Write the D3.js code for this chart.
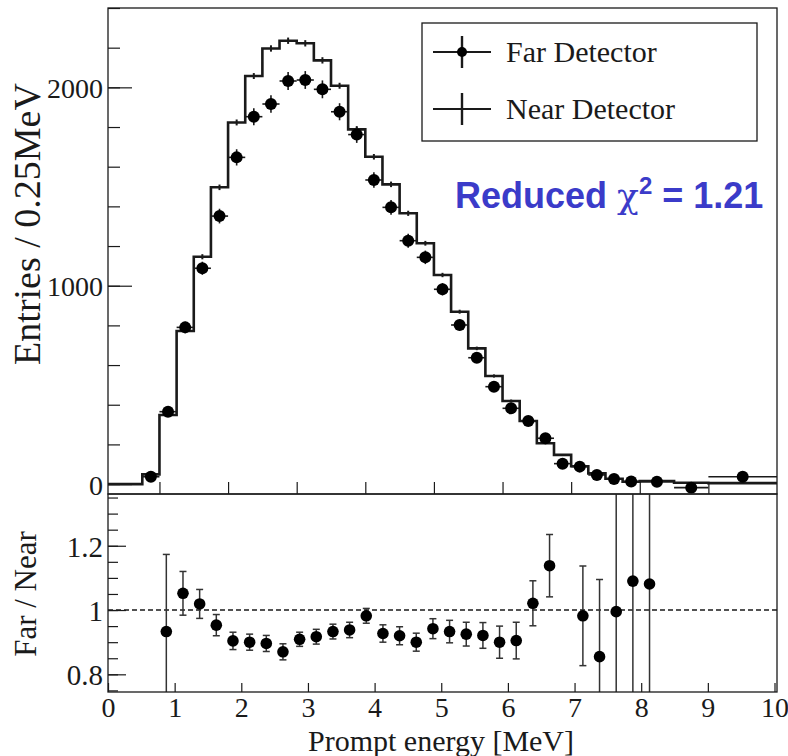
<!DOCTYPE html>
<html>
<head>
<meta charset="utf-8">
<script src="https://cdn.jsdelivr.net/npm/d3@7"></script>
<style>
  body { margin: 0; background: #fff; }
  svg { display: block; font-family: "Liberation Serif", "DejaVu Serif", serif; }
</style>
</head>
<body>
<svg class="chart"></svg>
<script>
// bin edges of the energy histogram (MeV); last three bins are wider
const binEdges = [0.25, 0.5, 0.75, 1.0, 1.25, 1.5, 1.75, 2.0, 2.25, 2.5, 2.75, 3.0, 3.25, 3.5,
  3.75, 4.0, 4.25, 4.5, 4.75, 5.0, 5.25, 5.5, 5.75, 6.0, 6.25, 6.5, 6.75, 7.0, 7.25, 7.5, 7.75,
  8.0, 8.5, 9.0, 10.0];

// Near detector (scaled), entries / 0.25 MeV
const nearCounts = [0, 0, 49, 348, 772, 1146, 1496, 1823, 2057, 2196, 2235, 2222, 2136, 2008,
  1788, 1650, 1511, 1365, 1214, 1054, 869, 684, 545, 419, 318, 206, 147, 90, 54, 27, 12,
  15, 7, 5];
const nearErr = [0, 0, 6, 9, 12, 13, 14, 15, 15, 16, 16, 16, 16, 15,
  15, 14, 14, 13, 12, 11, 10, 9, 8, 7, 6, 5, 4, 4, 3, 3, 2,
  2, 2, 2];

// Far detector, entries / 0.25 MeV
const farCounts = [null, null, 37, 365, 790, 1088, 1351, 1647, 1852, 1916, 2032, 2037, 1990, 1877,
  1762, 1533, 1395, 1227, 1143, 982, 802, 637, 491, 382, 318, 231, 103, 88, 46, 26, 13,
  12, -18, 37];
const farErr = [0, 0, 6, 19, 28, 33, 37, 41, 43, 44, 45, 45, 45, 43,
  42, 39, 37, 35, 34, 31, 28, 25, 22, 20, 18, 15, 10, 9, 7, 5, 4,
  5, 6, 5];

// Far / Near ratio
const ratioCenters = [0.875, 1.125, 1.375, 1.625, 1.875, 2.125, 2.375, 2.625, 2.875, 3.125,
  3.375, 3.625, 3.875, 4.125, 4.375, 4.625, 4.875, 5.125, 5.375, 5.625, 5.875, 6.125, 6.375,
  6.625, 7.125, 7.375, 7.625, 7.875, 8.125];
const ratioValues = [0.933, 1.052, 1.019, 0.953, 0.904, 0.900, 0.896, 0.870, 0.909, 0.917,
  0.933, 0.938, 0.982, 0.927, 0.920, 0.900, 0.942, 0.933, 0.925, 0.921, 0.900, 0.905, 1.021,
  1.138, 0.982, 0.855, 0.995, 1.090, 1.081];
const ratioErr = [0.240, 0.068, 0.045, 0.033, 0.027, 0.025, 0.025, 0.025, 0.022, 0.023,
  0.023, 0.024, 0.023, 0.027, 0.028, 0.028, 0.031, 0.035, 0.037, 0.040, 0.050, 0.057, 0.070,
  0.097, 0.155, 0.240, 0.900, 0.900, 0.900];

const topMajor = [0, 1000, 2000];
const topMinor = [0, 200, 400, 600, 800, 1000, 1200, 1400, 1600, 1800, 2000, 2200, 2400];
const topXTicks = [1, 2, 3, 4, 5, 6, 7, 8, 9];
const lowXTicks = [0, 1, 2, 3, 4, 5, 6, 7, 8, 9, 10];
const lowMajor = [0.8, 1, 1.2];
const lowMinor = [0.75, 0.8, 0.85, 0.9, 0.95, 1, 1.05, 1.1, 1.15, 1.2, 1.25, 1.3, 1.35];

const width = 788, height = 756;
const left = 108, right = 777;
const topY0 = 8, splitY = 494, lowY1 = 692;
const ink = '#1a1a1a';

const svg = d3.select('.chart')
    .attr('width', width)
    .attr('height', height)
    .attr('viewBox', [0, 0, width, height]);

// scales
const xTop = d3.scaleLinear([0.25, 10], [left, right]);
const yTop = d3.scaleLinear([-50, 2400], [splitY, topY0]);
const xLow = d3.scaleLinear([0, 10], [left, 774.5]);
const yLow = d3.scaleLinear([0.745, 1.361], [lowY1, splitY]);

const defs = svg.append('defs');
defs.append('clipPath').attr('id', 'clipTop').append('rect')
    .attr('x', left).attr('y', topY0).attr('width', right - left).attr('height', splitY - topY0);
defs.append('clipPath').attr('id', 'clipLow').append('rect')
    .attr('x', left).attr('y', splitY).attr('width', right - left).attr('height', lowY1 - splitY);

function styleAxis(g, size) {
    g.select('.domain').remove();
    g.selectAll('.tick line').attr('stroke', ink).attr('stroke-width', 1.2);
    g.selectAll('.tick text')
        .attr('fill', ink)
        .style('font-family', '"Liberation Serif", serif')
        .style('font-size', size + 'px');
}

// ---------- top panel ----------
svg.append('g')
    .attr('transform', `translate(${left},0)`)
    .call(d3.axisLeft(yTop).tickValues(topMinor).tickSize(-12).tickFormat(''))
    .call(g => styleAxis(g, 28));
svg.append('g')
    .attr('transform', `translate(${left},0)`)
    .call(d3.axisLeft(yTop).tickValues(topMajor).tickSize(-24).tickPadding(5).tickFormat(d3.format('d')))
    .call(g => styleAxis(g, 28))
    .call(g => g.selectAll('.tick text').attr('dy', '0.36em'));
svg.append('g')
    .attr('transform', `translate(0,${splitY})`)
    .call(d3.axisBottom(xTop).tickValues(topXTicks).tickSize(-12).tickFormat(''))
    .call(g => styleAxis(g, 28));

const bins = d3.range(nearCounts.length).map(i => ({
    x0: binEdges[i], x1: binEdges[i + 1],
    near: nearCounts[i], nearErr: nearErr[i],
    far: farCounts[i], farErr: farErr[i]
}));

const plotTop = svg.append('g').attr('clip-path', 'url(#clipTop)');

// near detector histogram outline
const stepPts = [];
bins.forEach(b => { stepPts.push([b.x0, b.near]); stepPts.push([b.x1, b.near]); });
plotTop.append('path')
    .attr('d', d3.line().x(d => xTop(d[0])).y(d => yTop(d[1]))(stepPts))
    .attr('fill', 'none')
    .attr('stroke', ink)
    .attr('stroke-width', 2.6)
    .attr('stroke-linejoin', 'miter');

plotTop.append('g').selectAll('line')
    .data(bins.filter(b => b.near > 0))
    .join('line')
    .attr('x1', b => xTop((b.x0 + b.x1) / 2))
    .attr('x2', b => xTop((b.x0 + b.x1) / 2))
    .attr('y1', b => yTop(b.near - b.nearErr))
    .attr('y2', b => yTop(b.near + b.nearErr))
    .attr('stroke', ink)
    .attr('stroke-width', 2);

// far detector points
const farBins = bins.filter(b => b.far !== null);
const farG = plotTop.append('g').attr('stroke', ink).attr('stroke-width', 1.6);
farG.selectAll('.xerr')
    .data(farBins)
    .join('line')
    .attr('x1', b => xTop(b.x0))
    .attr('x2', b => xTop(b.x1))
    .attr('y1', b => yTop(b.far))
    .attr('y2', b => yTop(b.far));
farG.selectAll('.yerr')
    .data(farBins)
    .join('line')
    .attr('x1', b => xTop((b.x0 + b.x1) / 2))
    .attr('x2', b => xTop((b.x0 + b.x1) / 2))
    .attr('y1', b => yTop(b.far - b.farErr))
    .attr('y2', b => yTop(b.far + b.farErr));
plotTop.append('g').selectAll('circle')
    .data(farBins)
    .join('circle')
    .attr('cx', b => xTop((b.x0 + b.x1) / 2))
    .attr('cy', b => yTop(b.far))
    .attr('r', 6)
    .attr('fill', '#000');

svg.append('rect')
    .attr('x', left).attr('y', topY0)
    .attr('width', right - left).attr('height', splitY - topY0)
    .attr('fill', 'none').attr('stroke', ink).attr('stroke-width', 1.3);

// legend
const legend = svg.append('g');
legend.append('rect')
    .attr('x', 422).attr('y', 23).attr('width', 335).attr('height', 118)
    .attr('fill', '#fff').attr('stroke', ink).attr('stroke-width', 1.3);
const legendItems = [
    { label: 'Far Detector', dot: true, cy: 52 },
    { label: 'Near Detector', dot: false, cy: 109 }
];
legendItems.forEach(it => {
    const g = legend.append('g');
    g.append('line').attr('x1', 433).attr('x2', 491).attr('y1', it.cy).attr('y2', it.cy)
        .attr('stroke', ink).attr('stroke-width', 2);
    g.append('line').attr('x1', 462).attr('x2', 462).attr('y1', it.cy - 16).attr('y2', it.cy + 16)
        .attr('stroke', ink).attr('stroke-width', 2.4);
    if (it.dot) g.append('circle').attr('cx', 462).attr('cy', it.cy).attr('r', 5).attr('fill', '#000');
    g.append('text').attr('x', 506).attr('y', it.cy + 10)
        .attr('fill', ink).style('font-size', '30px').text(it.label);
});

// reduced chi2 annotation
const chi = svg.append('text')
    .attr('x', 455).attr('y', 208)
    .attr('fill', '#3b3bc9')
    .style('font-family', '"Liberation Sans", Arial, sans-serif')
    .style('font-weight', 'bold')
    .style('font-size', '36px');
chi.append('tspan').text('Reduced ');
chi.append('tspan').style('font-family', '"DejaVu Serif", serif').style('font-weight', 'normal').text('χ');
chi.append('tspan').attr('dy', -14).style('font-size', '24px').text('2');
chi.append('tspan').attr('dy', 14).text(' = 1.21');

// y title top
svg.append('text')
    .attr('transform', `translate(40,224) rotate(-90)`)
    .attr('text-anchor', 'middle')
    .attr('fill', ink)
    .style('font-size', '38px')
    .text('Entries / 0.25MeV');

// ---------- lower panel ----------
svg.append('g')
    .attr('transform', `translate(${left},0)`)
    .call(d3.axisLeft(yLow).tickValues(lowMinor).tickSize(-10).tickFormat(''))
    .call(g => styleAxis(g, 29));
svg.append('g')
    .attr('transform', `translate(${left},0)`)
    .call(d3.axisLeft(yLow).tickValues(lowMajor).tickSize(-18).tickPadding(5).tickFormat(d3.format('~g')))
    .call(g => styleAxis(g, 29))
    .call(g => g.selectAll('.tick text').attr('dy', '0.36em'));
svg.append('g')
    .attr('transform', `translate(0,${lowY1})`)
    .call(d3.axisBottom(xLow).tickValues(lowXTicks).tickSize(-9).tickPadding(5).tickFormat(d3.format('d')))
    .call(g => styleAxis(g, 28));

const plotLow = svg.append('g').attr('clip-path', 'url(#clipLow)');

plotLow.append('line')
    .attr('x1', left).attr('x2', right)
    .attr('y1', yLow(1)).attr('y2', yLow(1))
    .attr('stroke', ink).attr('stroke-width', 1.5)
    .attr('stroke-dasharray', '5,3');

const ratio = ratioCenters.map((c, i) => ({ x: c, y: ratioValues[i], e: ratioErr[i] }));
const errG = plotLow.append('g').attr('stroke', '#333').attr('stroke-width', 1.5);
errG.selectAll('.bar')
    .data(ratio)
    .join('line')
    .attr('x1', d => xLow(d.x)).attr('x2', d => xLow(d.x))
    .attr('y1', d => yLow(d.y - d.e)).attr('y2', d => yLow(d.y + d.e));
errG.selectAll('.capTop')
    .data(ratio)
    .join('line')
    .attr('x1', d => xLow(d.x) - 3.5).attr('x2', d => xLow(d.x) + 3.5)
    .attr('y1', d => yLow(d.y + d.e)).attr('y2', d => yLow(d.y + d.e));
errG.selectAll('.capBot')
    .data(ratio)
    .join('line')
    .attr('x1', d => xLow(d.x) - 3.5).attr('x2', d => xLow(d.x) + 3.5)
    .attr('y1', d => yLow(d.y - d.e)).attr('y2', d => yLow(d.y - d.e));
plotLow.append('g').selectAll('circle')
    .data(ratio)
    .join('circle')
    .attr('cx', d => xLow(d.x))
    .attr('cy', d => yLow(d.y))
    .attr('r', 5.8)
    .attr('fill', '#000');

svg.append('rect')
    .attr('x', left).attr('y', splitY)
    .attr('width', right - left).attr('height', lowY1 - splitY)
    .attr('fill', 'none').attr('stroke', ink).attr('stroke-width', 1.3);

svg.append('text')
    .attr('transform', `translate(36,594) rotate(-90)`)
    .attr('text-anchor', 'middle')
    .attr('fill', ink)
    .style('font-size', '31px')
    .text('Far / Near');

svg.append('text')
    .attr('x', 441).attr('y', 751)
    .attr('text-anchor', 'middle')
    .attr('fill', ink)
    .style('font-size', '30px')
    .text('Prompt energy [MeV]');
</script>
</body>
</html>
